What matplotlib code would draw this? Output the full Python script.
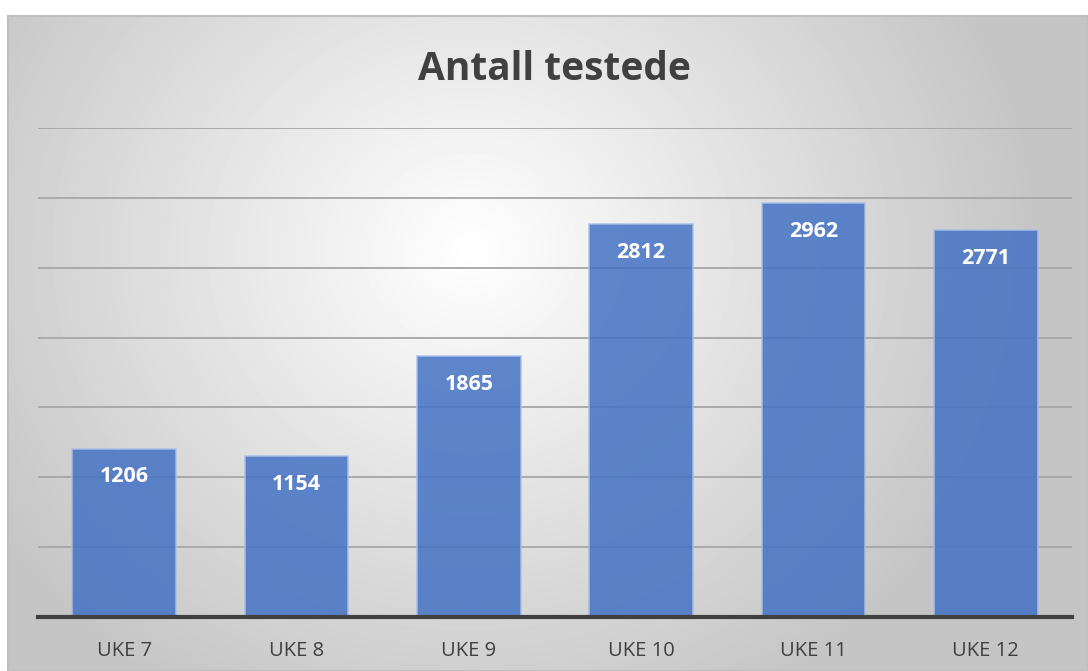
import numpy as np
import matplotlib.pyplot as plt

weeks = ["UKE 7", "UKE 8", "UKE 9", "UKE 10", "UKE 11", "UKE 12"]
tested = [1206, 1154, 1865, 2812, 2962, 2771]

W, H = 1088, 671
fig = plt.figure(figsize=(W / 100, H / 100), dpi=100)
fig.patch.set_facecolor("white")

# chart frame with a soft radial grey gradient
x0, y0 = 8, 16
bg = fig.add_axes([x0 / W, 0, 1 - x0 / W, (H - y0) / H])
yy, xx = np.mgrid[y0:H, x0:W]
d = np.hypot((xx - 470) / 1.1, yy - 250)
v = np.clip(1 - 0.23 * d / 520, 0.77, 1.0)
bg.imshow(v, cmap="gray", vmin=0, vmax=1, aspect="auto",
          extent=[0, 1, 0, 1], interpolation="bilinear")
bg.set_xlim(0, 1)
bg.set_ylim(0, 1)
bg.set_xticks([])
bg.set_yticks([])
for s in bg.spines.values():
    s.set_color("#BFBFBF")
    s.set_linewidth(1.5)

ax = fig.add_axes([38 / W, (H - 617) / H, (1072 - 38) / W, (617 - 128) / H])
ax.patch.set_alpha(0)
x = np.arange(len(weeks))
ax.bar(x, tested, width=0.6, color="#4472C4", alpha=0.85,
       edgecolor="#A9C0E8", linewidth=1.2, zorder=3)
ax.set_xlim(-0.5, len(weeks) - 0.5)
ax.set_ylim(0, 3500)
ax.set_yticks(np.arange(500, 3501, 500))
ax.yaxis.grid(True, color="#A6A6A6", linewidth=1.3, zorder=1)
ax.tick_params(axis="y", left=False, labelleft=False)
ax.tick_params(axis="x", bottom=False, pad=14, labelsize=14.5, labelcolor="#404040")
ax.set_xticks(x)
ax.set_xticklabels(weeks, fontfamily="Open Sans")
for side in ["left", "right", "top"]:
    ax.spines[side].set_visible(False)
ax.spines["bottom"].set_color("#404040")
ax.spines["bottom"].set_linewidth(3)
ax.spines["bottom"].set_zorder(4)

for xi, val in zip(x, tested):
    ax.annotate(str(val), (xi, val), xytext=(0, -20.5), textcoords="offset points",
                ha="center", va="center", color="white", fontsize=15.5,
                fontweight="bold", fontfamily="Open Sans", zorder=5)

fig.text(554 / W, 1 - 69 / H, "Antall testede", ha="center", va="center",
         fontsize=28, fontweight="bold", color="#404040", fontfamily="Open Sans")

fig.savefig("out.png", dpi=100)
